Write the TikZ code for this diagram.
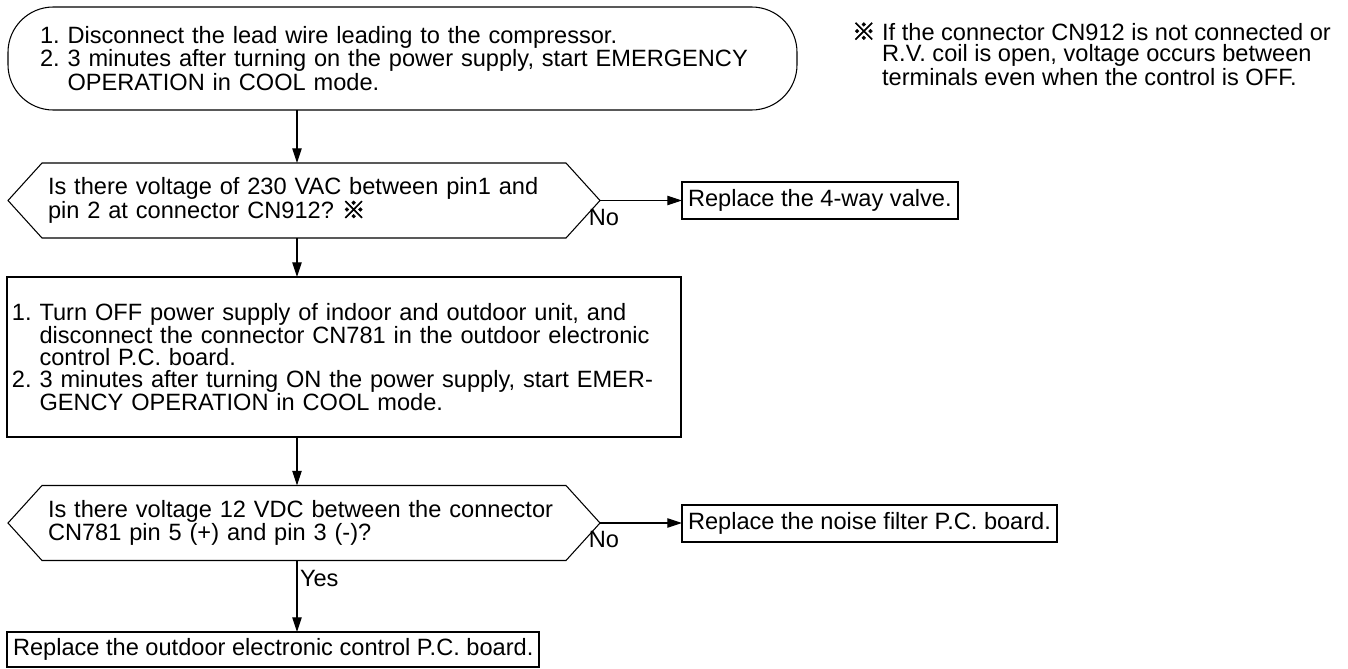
\documentclass[tikz,border=0pt]{standalone}
\usepackage{fontspec}
\setmainfont{Liberation Sans}
\newfontfamily\cjkfont[FakeBold=2.5]{Noto Sans CJK JP}
\usetikzlibrary{arrows.meta}
\newcommand{\refmark}{{\cjkfont ※}}
\begin{document}
\frenchspacing
\begin{tikzpicture}[x=0.75pt, y=-0.75pt,
  every node/.style={font=\fontsize{17.7pt}{16.3pt}\selectfont\frenchspacing, outer sep=0pt},
  shapeline/.style={draw=black, line width=0.8pt},
  arr/.style={draw=black, line width=0.8pt, -{Triangle[length=11pt,width=7pt]}},
  term/.style={shapeline, rounded corners=34pt, align=left, inner ysep=0pt},
  decision/.style={draw=none, align=left, inner xsep=30pt, inner ysep=0pt,
    minimum height=56.25pt, text width=384pt},
  proc/.style={shapeline, align=left, inner xsep=3.75pt, inner ysep=0pt},
  result/.style={draw=black, line width=1.5pt, inner xsep=4.5pt, inner ysep=0pt,
    minimum height=27.75pt},
  lbl/.style={inner sep=0pt}
]
\useasboundingbox (0,0) rectangle (1348,668);
\coordinate (sp) at (297,0);

% start terminal
\node[term, minimum width=591.75pt, minimum height=77.25pt, text width=543.75pt,
      inner xsep=24pt] (t) at (402.5,58.5)
  {1. Disconnect the lead wire leading to the compressor.\\
   2. 3 minutes after turning on the power supply, start EMERGENCY\\
   \hphantom{2.\ }OPERATION in COOL mode.};

% decision 1
\node[decision] (d1) at (304,200.5)
  {Is there voltage of 230 VAC between pin1 and\\
   pin 2 at connector CN912? \refmark};
\draw[shapeline] (d1.west) -- ([xshift=25.5pt]d1.north west) -- ([xshift=-25.5pt]d1.north east)
  -- (d1.east) -- ([xshift=-25.5pt]d1.south east) -- ([xshift=25.5pt]d1.south west) -- cycle;

% result 1
\node[result, anchor=west] (r1) at (682,200.5) {Replace the 4-way valve.};

% process box
\node[proc, minimum width=505.5pt, minimum height=120pt, text width=498pt] (m) at (344,357)
  {1. Turn OFF power supply of indoor and outdoor unit, and\\
   \hphantom{1.\ }disconnect the connector CN781 in the outdoor electronic\\
   \hphantom{1.\ }control P.C. board.\\
   2. 3 minutes after turning ON the power supply, start EMER-\\
   \hphantom{2.\ }GENCY OPERATION in COOL mode.};

% decision 2
\node[decision] (d2) at (304,523)
  {Is there voltage 12 VDC between the connector\\
   CN781 pin 5 (+) and pin 3 (-)?};
\draw[shapeline] (d2.west) -- ([xshift=25.5pt]d2.north west) -- ([xshift=-25.5pt]d2.north east)
  -- (d2.east) -- ([xshift=-25.5pt]d2.south east) -- ([xshift=25.5pt]d2.south west) -- cycle;

% result 2
\node[result, anchor=west] (r2) at (682,523) {Replace the noise filter P.C. board.};

% final result
\node[result, anchor=west, minimum height=26.25pt] (b) at (7,649.5)
  {Replace the outdoor electronic control P.C. board.};

% note
\node[lbl, anchor=west, align=left] (note) at (852,54)
  {\refmark\ If the connector CN912 is not connected or\\
   \hphantom{\refmark\ }R.V. coil is open, voltage occurs between\\
   \hphantom{\refmark\ }terminals even when the control is OFF.};

% connectors
\draw[arr] (t.south -| sp) -- (d1.north -| sp);
\draw[arr] (d1.south -| sp) -- (m.north -| sp);
\draw[arr] (m.south -| sp) -- (d2.north -| sp);
\draw[arr] (d2.south -| sp) -- (b.north -| sp);
\draw[arr] (d1.east) -- (r1.west);
\draw[arr] (d2.east) -- (r2.west);

% labels
\node[lbl] (no1) at (604,217) {No};
\node[lbl] (no2) at (604,539) {No};
\node[lbl, anchor=west] (yes) at (300,578) {Yes};
\end{tikzpicture}
\end{document}
